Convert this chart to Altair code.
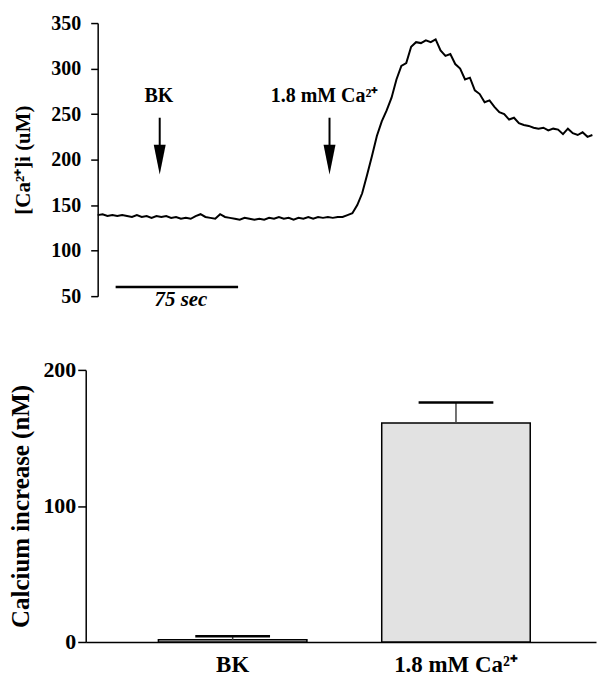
import altair as alt
import pandas as pd

# ---------------- data: top panel trace (time in s, [Ca2+]i) ----------------
time_s = [0, 3, 6, 9, 12, 15, 18, 21, 24, 27, 30, 33, 36, 39, 42, 45, 48, 51, 54, 57,
          60, 63, 66, 69, 72, 75, 78, 81, 84, 87, 90, 93, 96, 99, 102, 105, 108, 111, 114, 117,
          120, 123, 126, 129, 132, 135, 138, 141, 144, 147, 150, 153, 156, 159, 162, 165, 168, 171, 174, 177,
          180, 183, 186, 189, 192, 195, 198, 201, 204, 207, 210, 213, 216, 219, 222, 225, 228, 231, 234, 237,
          240, 243, 246, 249, 252, 255, 258, 261, 264, 267, 270, 273, 276, 279, 282, 285, 288, 291, 294, 297,
          300, 303]
ca_conc = [139, 140, 138, 139, 138, 139, 138, 137, 139, 137, 138, 136, 138, 137, 138, 136, 137, 135, 136, 135,
           138, 140, 137, 136, 135, 140, 137, 136, 135, 134, 136, 135, 134, 135, 134, 136, 135, 137, 135, 136,
           134, 136, 135, 137, 135, 137, 136, 137, 136, 137, 137, 139, 141, 150, 163, 183, 204, 226, 242, 254,
           268, 288, 303, 306, 324, 329, 328, 331, 329, 332, 320, 314, 316, 305, 300, 288, 290, 276, 272, 263,
           265, 258, 252, 250, 244, 246, 240, 238, 237, 235, 234, 235, 232, 234, 233, 228, 234, 229, 227, 230,
           225, 227]

# scale bar (75 s)
bar_t = [11]
bar_t2 = [86]
bar_level = [60]
bar_label = ["75 sec"]
bar_label_t = [51]
bar_label_level = [46]

# arrows and their labels
arrow_t = [38, 142]
arrow_top = [246, 246]
arrow_head = [200, 200]
arrow_labels = ["BK", "1.8 mM Ca\u00b2\u207a"]
arrow_label_t = [37.5, 139]
arrow_label_level = [263.5, 263.5]

# ---------------- data: bottom panel bars ----------------
conditions = ["BK", "1.8 mM Ca\u00b2\u207a"]
increase = [1.7, 161]
sem = [2.5, 15]

FONT = "Liberation Serif"

trace = pd.DataFrame({"t": time_s, "v": ca_conc})
sbar = pd.DataFrame({"t": bar_t, "t2": bar_t2, "v": bar_level})
slab = pd.DataFrame({"t": bar_label_t, "v": bar_label_level, "txt": bar_label})
arrows = pd.DataFrame({"t": arrow_t, "v": arrow_top, "v2": arrow_head})
heads = pd.DataFrame({"t": arrow_t, "v": arrow_head})
alabs = pd.DataFrame({"t": arrow_label_t, "v": arrow_label_level, "txt": arrow_labels})

xs = alt.Scale(domain=[0, 304], range=[12, 510])
ys = alt.Scale(domain=[50, 350])
y_axis_top = alt.Axis(
    values=[50, 100, 150, 200, 250, 300, 350], title="[Ca\u00b2\u207a]i (uM)",
    offset=-12, tickSize=7, labelPadding=10, titlePadding=17, grid=False,
    labelFont=FONT, labelFontWeight="bold", labelFontSize=20, labelColor="black",
    titleFont=FONT, titleFontWeight="bold", titleFontSize=21, titleColor="black",
    domainColor="black", tickColor="black", domainWidth=1.5, tickWidth=1.5,
)

X = alt.X("t:Q", scale=xs, axis=None)
Y = alt.Y("v:Q", scale=ys, axis=y_axis_top)

line = alt.Chart(trace).mark_line(color="black", strokeWidth=2, clip=False).encode(x=X, y=Y)
scalebar = alt.Chart(sbar).mark_rule(color="black", strokeWidth=2.5).encode(
    x=X, x2="t2:Q", y=Y)
scaletext = alt.Chart(slab).mark_text(
    font=FONT, fontSize=21, fontWeight="bold", fontStyle="italic", color="black",
    baseline="middle", align="center").encode(x=X, y=Y, text="txt:N")
shafts = alt.Chart(arrows).mark_rule(color="black", strokeWidth=2).encode(x=X, y=Y, y2="v2:Q")
arrowheads = alt.Chart(heads).mark_point(
    shape="M-0.4,-1L0.4,-1L0,1Z", filled=True, color="black", opacity=1, size=900,
    strokeWidth=0).encode(x=X, y=Y)
labels = alt.Chart(alabs).mark_text(
    font=FONT, fontSize=20, fontWeight="bold", color="black",
    baseline="alphabetic", align="center").encode(x=X, y=Y, text="txt:N")

top = alt.layer(line, scalebar, scaletext, shafts, arrowheads, labels).properties(
    width=512, height=274)

bars_df = pd.DataFrame({"cond": conditions, "mean": increase, "sem": sem})
bars_df["hi"] = bars_df["mean"] + bars_df["sem"]

xb = alt.X("cond:N", sort=conditions,
           scale=alt.Scale(paddingInner=0.335, paddingOuter=0.31, align=0.525),
           axis=alt.Axis(title=None, labelAngle=0, ticks=False, labelPadding=12,
                         labelFont=FONT, labelFontWeight="bold", labelFontSize=23,
                         labelColor="black", domainColor="black", domainWidth=1.5,
                         labelBaseline="top"))
yb_axis = alt.Axis(values=[0, 100, 200], title="Calcium increase (nM)", tickSize=8,
                   labelPadding=2, titlePadding=9, grid=False,
                   labelFont=FONT, labelFontWeight="bold", labelFontSize=22, labelColor="black",
                   titleFont=FONT, titleFontWeight="bold", titleFontSize=25, titleColor="black",
                   domainColor="black", tickColor="black", domainWidth=1.5, tickWidth=1.5)
yb = alt.Y("mean:Q", scale=alt.Scale(domain=[0, 200]), axis=yb_axis)

bars = alt.Chart(bars_df).mark_bar(fill="#e2e2e2", stroke="black", strokeWidth=1.5).encode(
    x=xb, y=yb)
stems = alt.Chart(bars_df).mark_rule(color="#444444", strokeWidth=1.5).encode(
    x=xb, y=yb, y2="hi:Q")
caps = alt.Chart(bars_df).mark_tick(color="black", thickness=2.5, size=75, opacity=1).encode(
    x=xb, y=alt.Y("hi:Q", scale=alt.Scale(domain=[0, 200]), axis=yb_axis))

bottom = alt.layer(bars, stems, caps).properties(width=512, height=273)

chart = alt.vconcat(top, bottom, spacing=74, bounds="flush").configure_view(
    stroke=None).properties(
    padding={"left": 8, "top": 12, "right": 0, "bottom": 0}, background="white")

chart.save("out.html", embed_options={"renderer": "svg", "actions": False})
